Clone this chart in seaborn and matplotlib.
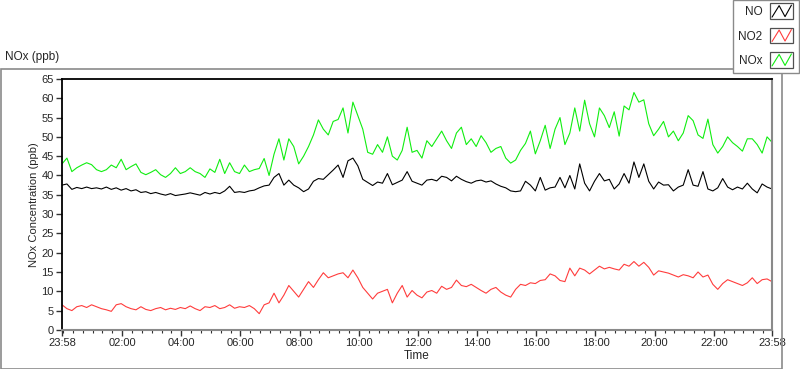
import pandas as pd
import matplotlib.pyplot as plt
import matplotlib.dates as mdates
from matplotlib.lines import Line2D
from matplotlib.patches import Rectangle
from matplotlib.legend_handler import HandlerBase
import seaborn as sns

# readings every 10 minutes from 23:58 to 23:58 next day (145 points)
no = [
    37.5, 37.8, 36.4, 36.9, 36.6, 37.0,
    36.6, 36.8, 36.5, 37.0, 36.4, 36.8,
    36.2, 36.6, 36.0, 36.3, 35.6, 35.8,
    35.3, 35.6, 35.2, 34.9, 35.3, 34.8,
    35.0, 35.2, 35.5, 35.2, 34.9, 35.6,
    35.2, 35.6, 35.3, 36.0, 37.2, 35.6,
    35.8, 35.6, 36.0, 36.2, 36.8, 37.3,
    37.5, 39.5, 40.5, 37.5, 38.8, 37.5,
    36.8, 35.8, 36.5, 38.5, 39.2, 39.0,
    40.2, 41.4, 42.7, 39.5, 43.8, 44.5,
    42.5, 39.0, 38.2, 37.4, 38.3, 38.0,
    40.5, 37.6, 38.2, 38.8, 41.0, 38.5,
    38.0, 37.5, 38.8, 39.0, 38.6, 39.8,
    39.5, 38.6, 39.8, 39.0, 38.4, 38.0,
    38.6, 38.8, 38.3, 38.6, 37.8, 37.2,
    36.8, 36.0, 35.8, 36.0, 38.5, 37.5,
    36.0, 39.5, 36.2, 36.8, 37.0, 39.5,
    36.8, 40.0, 36.5, 43.0, 38.0, 36.0,
    38.5, 40.5, 38.6, 39.0, 36.5, 37.8,
    40.5, 38.0, 43.5, 39.5, 43.0, 38.5,
    36.5, 38.3, 37.5, 37.6, 36.0, 37.0,
    37.5, 41.5, 37.5, 37.2, 41.0, 36.5,
    36.0, 36.8, 39.2, 37.0, 36.3, 37.0,
    36.5, 38.0, 36.5, 35.5, 37.8, 37.0,
    36.5,
]

no2 = [
    6.5, 5.5, 5.0, 6.0, 6.3, 5.8,
    6.5, 6.0, 5.5, 5.2, 4.8, 6.5,
    6.8, 6.0, 5.5, 5.2, 6.0, 5.3,
    5.0, 5.5, 5.8, 5.2, 5.6, 5.3,
    5.8, 5.5, 6.2, 5.5, 5.0, 6.0,
    5.8, 6.3, 5.5, 5.8, 6.5, 5.6,
    6.0, 5.8, 6.3, 5.5, 4.2, 6.5,
    7.0, 9.5, 7.0, 9.0, 11.5, 10.0,
    8.5, 10.5, 12.5, 11.0, 13.0, 14.8,
    13.5, 14.0, 14.5, 14.8, 13.5, 15.5,
    13.5, 11.0, 9.5, 8.0, 9.5, 10.0,
    10.5, 7.0, 9.5, 11.5, 8.5, 10.2,
    9.0, 8.3, 9.8, 10.2, 9.5, 11.3,
    10.5, 11.0, 12.9, 11.5, 11.2, 11.8,
    11.0, 10.2, 9.5, 10.5, 11.0, 9.8,
    9.0, 8.5, 10.5, 11.8, 11.5, 12.2,
    12.0, 12.8, 13.0, 14.5, 14.0, 12.8,
    12.5, 16.0, 14.0, 16.0, 15.5, 14.5,
    15.5, 16.5, 15.8, 16.2, 15.8, 15.5,
    17.0, 16.5, 17.7, 16.5, 17.5, 16.2,
    14.2, 15.3, 15.0, 14.7, 14.2, 13.7,
    14.3, 14.0, 13.5, 15.0, 13.7, 14.2,
    11.8, 10.5, 12.0, 13.0, 12.5, 12.0,
    11.5, 12.2, 13.5, 12.0, 13.0, 13.2,
    12.5,
]

nox = [
    43.0, 44.5, 41.0, 42.0, 42.7, 43.3,
    42.8, 41.5, 41.0, 41.5, 42.7, 42.0,
    44.2, 41.5, 42.3, 43.0, 40.8, 40.2,
    40.8, 41.5, 40.2, 39.5, 40.5, 42.0,
    40.5, 41.0, 42.0, 41.0, 40.5, 39.5,
    41.7, 40.8, 44.2, 40.5, 43.3, 41.0,
    40.5, 42.7, 41.0, 41.5, 41.8, 44.4,
    40.0, 45.5, 49.5, 44.0, 49.5, 47.5,
    43.0, 45.0, 47.5, 50.5, 54.4, 52.0,
    50.5, 54.0, 54.5, 57.5, 51.0, 59.0,
    55.5, 52.0, 46.0, 45.5, 48.0, 46.0,
    50.0, 45.0, 44.0, 46.5, 52.5, 46.0,
    46.5, 44.5, 49.0, 47.5, 49.5, 51.5,
    49.0, 47.0, 51.0, 52.5, 48.0, 49.5,
    47.5, 50.3, 48.5, 46.0, 47.0, 47.5,
    44.5, 43.2, 44.0, 46.5, 48.3, 51.5,
    45.6, 49.0, 53.0, 47.0, 52.0, 55.0,
    48.0, 51.0, 57.5, 51.5, 59.5, 53.4,
    50.0, 57.5, 55.5, 52.4, 56.5, 50.2,
    58.0, 57.0, 61.5, 59.0, 59.6, 53.4,
    50.3, 52.0, 54.0, 50.0, 51.5, 49.0,
    51.0, 55.5, 54.2, 50.5, 49.6, 54.6,
    48.0, 45.8, 47.5, 50.0, 48.5, 47.5,
    46.3, 49.5, 49.5, 48.0, 45.8, 50.0,
    48.6,
]

series_names = ["NO", "NO2", "NOx"]
series_colors = ["#000000", "#ff3c3c", "#10ee10"]


class BoxedZigzag(HandlerBase):
    # LabVIEW-ish legend icon: a small framed box with a zigzag line inside
    def create_artists(self, legend, orig_handle, xdescent, ydescent,
                       width, height, fontsize, trans):
        x0, y0 = -xdescent, -ydescent - 0.45 * height
        h = height * 1.9
        box = Rectangle((x0, y0), width, h, fill=False, edgecolor="#505050",
                        linewidth=0.9, transform=trans)
        fx = [0.1, 0.4, 0.65, 0.92]
        fy = [0.12, 0.85, 0.15, 0.88]
        zig = Line2D([x0 + f * width for f in fx], [y0 + f * h for f in fy],
                     color=orig_handle.get_color(), linewidth=0.8, transform=trans)
        return [box, zig]


times = pd.date_range("2024-01-01 23:58", periods=len(no), freq="10min")
wide = pd.DataFrame({"Time": times, "NO": no, "NO2": no2, "NOx": nox})
df = wide.melt(id_vars="Time", var_name="Gas", value_name="ppb")

sns.set_style("white")
plt.rcParams["font.family"] = ["Liberation Sans", "DejaVu Sans"]

fig = plt.figure(figsize=(8, 3.69), dpi=100)
ax = fig.add_axes([0.0775, 0.106, 0.8875, 0.680])

sns.lineplot(data=df, x="Time", y="ppb", hue="Gas", hue_order=series_names,
             palette=dict(zip(series_names, series_colors)),
             linewidth=0.8, legend=False, ax=ax)

# axis limits / ticks
ax.set_xlim(times[0], times[-1])
ax.set_ylim(0, 65)
ax.set_yticks(range(0, 66, 5))

major = [times[0]] + list(pd.date_range("2024-01-02 02:00", "2024-01-02 22:00", freq="2h")) + [times[-1]]
ax.set_xticks(major)
ax.set_xticklabels([t.strftime("%H:%M") for t in major])
ax.xaxis.set_minor_locator(mdates.MinuteLocator(byminute=[0, 20, 40]))

ax.tick_params(axis="both", which="major", direction="out", length=4, width=1,
               labelsize=8, color="#333333", pad=2, bottom=True, left=True)
ax.tick_params(axis="x", which="minor", direction="out", length=2.5, width=0.8,
               color="#333333", bottom=True)

ax.set_xlabel("Time", fontsize=8.5, labelpad=1)
ax.set_ylabel("NOx Concentration (ppb)", fontsize=8, labelpad=2)

# LabVIEW style frame: dark top/left, grey right/bottom
for side in ["top", "left"]:
    ax.spines[side].set_color("black")
    ax.spines[side].set_linewidth(1.3)
for side in ["right", "bottom"]:
    ax.spines[side].set_color("#8a8a8a")
    ax.spines[side].set_linewidth(1.5)

# outer chart frame
fig.patches.append(Rectangle((0.001, 0.0), 0.976, 0.813, transform=fig.transFigure,
                             fill=False, edgecolor="#8a8a8a", linewidth=1.2))

fig.text(0.006, 0.846, "NOx (ppb)", fontsize=8.5, va="center", ha="left")

handles = [Line2D([], [], color=c, linewidth=0.8) for c in series_colors]
leg = fig.legend(handles, series_names, loc="upper right", bbox_to_anchor=(0.999, 0.999),
                 fontsize=8.5, frameon=True, fancybox=False, framealpha=1,
                 edgecolor="#8a8a8a", markerfirst=False, handlelength=2.0,
                 handleheight=0.7, labelspacing=1.05, borderpad=0.5,
                 handletextpad=0.6, borderaxespad=0.0,
                 handler_map={Line2D: BoxedZigzag()})
leg.get_frame().set_linewidth(1.0)

fig.savefig("out.png", dpi=100)
plt.close(fig)
